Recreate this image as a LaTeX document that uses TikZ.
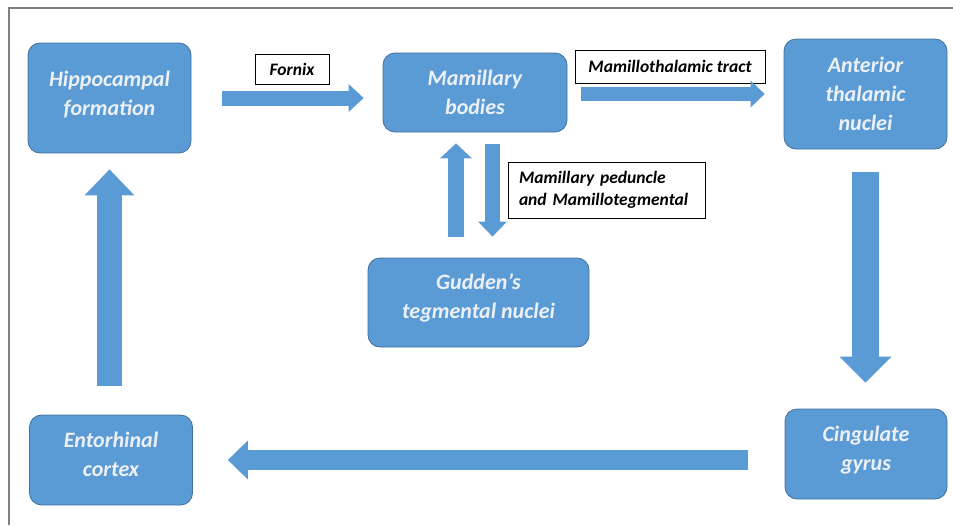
\documentclass[tikz,border=0pt]{standalone}
\usepackage{fontspec}
\setmainfont{Carlito}
\usepackage{tikz}
\usetikzlibrary{calc}
\usetikzlibrary{arrows.meta}

\definecolor{boxblue}{RGB}{91,155,213}
\definecolor{boxedge}{RGB}{65,113,156}
\definecolor{boxtext}{RGB}{236,240,245}
\definecolor{framegray}{RGB}{128,128,128}

\tikzset{
	region/.style={draw=boxedge, line width=0.8pt, fill=boxblue, rounded corners=12pt, text=boxtext, align=center, inner sep=0pt, font=\fontsize{22}{29}\selectfont\bfseries\itshape},
	tractlabel/.style={draw=black, line width=0.8pt, fill=white, inner sep=0pt, font=\fontsize{17.5}{22}\selectfont\bfseries\itshape},
	fatarrow/.style n args={3}{draw=boxblue, line width=#1, -{Triangle[width=#2,length=#3,line width=0pt]}},
}

\begin{document}
\begin{tikzpicture}[x=1pt,y=-1pt]
				\useasboundingbox (0,0) rectangle (953,525);
				\draw[framegray, line width=2pt] (9,525) -- (9,8) -- (953,8);% Draw frame
				
				% regions of the circuit
				\node[region, minimum width=163pt, minimum height=110pt, text depth=10pt] (hip) at (109.5,98) {Hippocampal\\formation};
				\node[region, minimum width=184pt, minimum height=79pt] (mam) at (475,92.5) {Mamillary\\bodies};
				\node[region, minimum width=163pt, minimum height=110pt] (ant) at (865.5,94) {Anterior\\thalamic\\nuclei};
				\node[region, minimum width=221pt, minimum height=89pt, text depth=12.5pt] (gud) at (478.5,302.5) {Gudden's\\tegmental nuclei};
				\node[region, minimum width=162pt, minimum height=90pt, text depth=11.5pt] (cin) at (866,454) {Cingulate\\gyrus};
				\node[region, minimum width=163pt, minimum height=90pt, text depth=12pt] (ent) at (111,460) {Entorhinal\\cortex};
				
				% tract labels
				\node[tractlabel, minimum width=74pt, minimum height=30pt] (fornix) at (292,69) {Fornix};
				\node[tractlabel, minimum width=190pt, minimum height=33pt] (mtt) at (670,66.5) {Mamillothalamic tract};
				\node[tractlabel, minimum width=197pt, minimum height=56pt, align=left, text width=175pt] (mped) at (606.5,190) {Mamillary peduncle\\and Mamillotegmental};
				
				% block arrows
				\draw[fatarrow={15pt}{28pt}{15pt}, shorten <=31pt, shorten >=19pt] (hip) -- (hip -| mam.west);
				\draw[fatarrow={14pt}{27pt}{14pt}, shorten <=14pt, shorten >=19pt] (mam.east |- ant) -- (ant);
				\draw[fatarrow={27pt}{52pt}{26pt}, shorten <=23pt, shorten >=26pt] (ant) -- (ant |- cin.north);
				\draw[fatarrow={20pt}{39pt}{20pt}, shorten <=37pt, shorten >=35pt] (ent -| cin.west) -- (ent);
				\draw[fatarrow={25pt}{50pt}{26pt}, shorten <=29pt, shorten >=16pt] (hip |- ent.north) -- (hip);
				\draw[fatarrow={16pt}{32pt}{15pt}, shorten <=21pt, shorten >=11pt] ([xshift=-19pt]mam.south |- gud.north) -- ([xshift=-19pt]mam.south);
				\draw[fatarrow={15pt}{29pt}{15pt}, shorten <=12pt, shorten >=21pt] ([xshift=17.5pt]mam.south) -- ([xshift=17.5pt]mam.south |- gud.north);
				
\end{tikzpicture}
\end{document}
